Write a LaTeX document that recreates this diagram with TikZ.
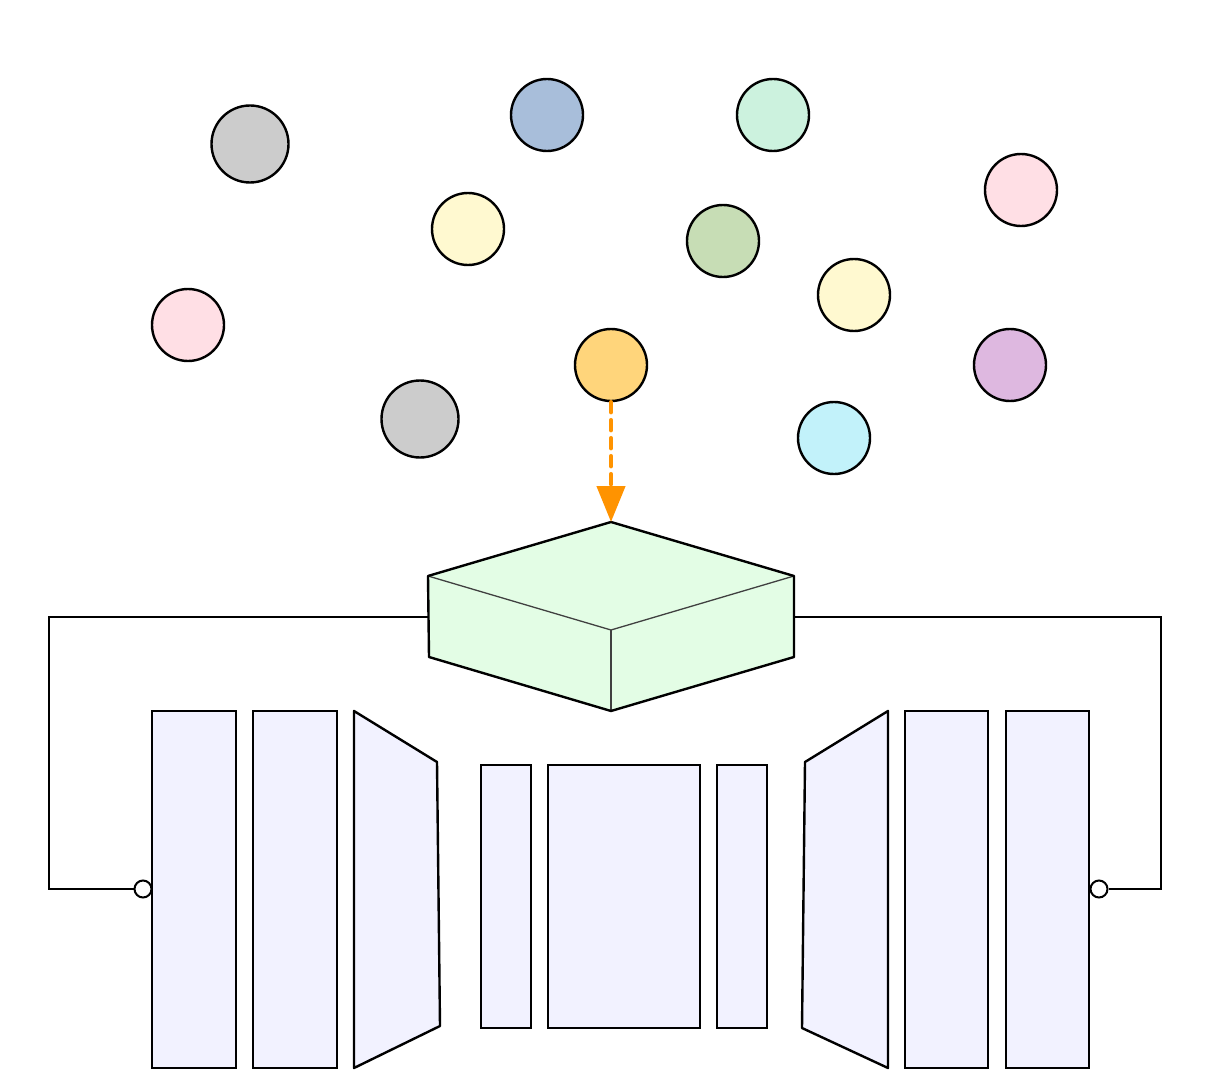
\documentclass[tikz,border=0pt]{standalone}
\usetikzlibrary{arrows.meta}
\definecolor{cgray}{HTML}{CCCCCC}
\definecolor{cblue}{HTML}{A8BEDA}
\definecolor{cmint}{HTML}{CCF2DE}
\definecolor{cpink}{HTML}{FFDFE5}
\definecolor{cyellow}{HTML}{FFF9D0}
\definecolor{cgreen}{HTML}{C7DDB5}
\definecolor{corange}{HTML}{FFD57B}
\definecolor{cpurple}{HTML}{DEB8E0}
\definecolor{ccyan}{HTML}{C2F2FA}
\definecolor{cbox}{HTML}{E3FDE5}
\definecolor{cblock}{HTML}{F2F2FF}
\definecolor{carrow}{HTML}{FF9300}
\tikzset{
  ball/.style={circle,draw=black,line width=2.4pt,inner sep=0pt,minimum size=72pt},
  bigball/.style={ball,minimum size=77pt},
  block/.style={draw=black,line width=2.4pt,fill=cblock,inner sep=0pt,outer sep=0pt,anchor=north west},
  wire/.style={draw=black,line width=2.4pt},
  port/.style={circle,draw=black,fill=white,line width=2pt,inner sep=0pt,minimum size=17pt},
  boxedge/.style={draw=black,line width=2.4pt,line join=round},
  inner/.style={draw=black!75,line width=1.3pt},
}
\begin{document}
\begin{tikzpicture}[x=1pt,y=-1pt]
\useasboundingbox (0,0) rectangle (1208,1078);
% circles
\node[bigball,fill=cgray] (g1) at (250,144) {};
\node[ball,fill=cblue] (b1) at (547,115) {};
\node[ball,fill=cmint] (m1) at (773,115) {};
\node[ball,fill=cpink] (p1) at (1021,190) {};
\node[ball,fill=cyellow] (y1) at (468,229) {};
\node[ball,fill=cgreen] (gr1) at (723,241) {};
\node[ball,fill=cyellow] (y2) at (854,295) {};
\node[ball,fill=cpink] (p2) at (188,325) {};
\node[ball,fill=corange] (o1) at (611,365) {};
\node[ball,fill=cpurple] (pu1) at (1010,365) {};
\node[bigball,fill=cgray] (g2) at (420,419) {};
\node[ball,fill=ccyan] (c1) at (834,438) {};
% box coordinates
\coordinate (top) at (611,522);
\coordinate (tl) at (428,576);
\coordinate (tr) at (794,576);
\coordinate (mid) at (611,630);
\coordinate (bl) at (429,657);
\coordinate (br) at (794,657);
\coordinate (bot) at (611,711);
\coordinate (boxL) at (428,617);
\coordinate (boxR) at (794,617);
% blocks
\node[block,minimum width=84pt,minimum height=357pt] (r1) at (152,711) {};
\node[block,minimum width=84pt,minimum height=357pt] (r2) at (253,711) {};
\path[boxedge,fill=cblock] (354,711) -- (437,762) -- (440,1026) -- (354,1068) -- cycle;
\node[block,minimum width=50pt,minimum height=263pt] (s1) at (481,765) {};
\node[block,minimum width=152pt,minimum height=263pt] (mm) at (548,765) {};
\node[block,minimum width=50pt,minimum height=263pt] (s2) at (717,765) {};
\path[boxedge,fill=cblock] (888,711) -- (805,762) -- (802,1028) -- (888,1068) -- cycle;
\node[block,minimum width=83pt,minimum height=357pt] (r3) at (905,711) {};
\node[block,minimum width=83pt,minimum height=357pt] (r4) at (1006,711) {};
% ports
\node[port] (pl) at (143,889) {};
\node[port] (pr) at (1099,889) {};
% feedback wires
\draw[wire] (boxL) -| (49,889) -- (pl.west);
\draw[wire] (boxR) -| (1161,889) -- (pr.east);
% box
\path[fill=cbox] (top) -- (tr) -- (br) -- (bot) -- (bl) -- (tl) -- cycle;
\draw[inner] (tl) -- (mid) -- (tr);
\draw[inner] (mid) -- (bot);
\draw[boxedge] (top) -- (tr) -- (br) -- (bot) -- (bl) -- (tl) -- cycle;
% arrow
\draw[carrow,line width=4.5pt,dash pattern=on 10pt off 8pt,line cap=round,
  -{Triangle[length=36pt,width=28pt,line cap=butt]}] (o1.south) -- (top);
\end{tikzpicture}
\end{document}
